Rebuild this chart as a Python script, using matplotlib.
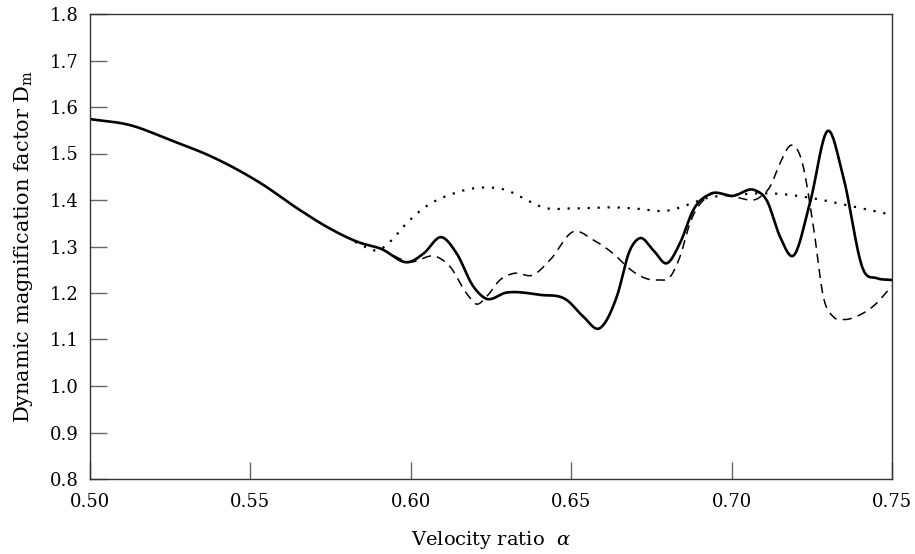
import numpy as np
import matplotlib
matplotlib.use("Agg")
import matplotlib.pyplot as plt

# solid curve
solid_x = [0.500, 0.5125, 0.525, 0.5383, 0.553, 0.5655, 0.5739, 0.5842, 0.5904, 0.5998,
           0.6040, 0.6096, 0.6143, 0.6195, 0.6231, 0.6299, 0.6403, 0.6486, 0.6538, 0.6588,
           0.6642, 0.6683, 0.6714, 0.6756, 0.6798, 0.6839, 0.6881, 0.6933, 0.7005, 0.7073,
           0.7109, 0.7151, 0.7192, 0.7244, 0.7301, 0.7348, 0.7411, 0.7452, 0.7500]
solid_y = [1.574, 1.561, 1.529, 1.492, 1.437, 1.378, 1.342, 1.308, 1.296, 1.267,
           1.285, 1.320, 1.285, 1.214, 1.189, 1.201, 1.196, 1.185, 1.149, 1.124,
           1.192, 1.292, 1.318, 1.292, 1.264, 1.307, 1.379, 1.413, 1.409, 1.421,
           1.400, 1.321, 1.280, 1.393, 1.549, 1.450, 1.249, 1.232, 1.228]

# dashed curve
dashed_x = [0.5904, 0.5998, 0.6081, 0.6122, 0.6174, 0.6205, 0.6236, 0.6278, 0.6319, 0.6382,
            0.6434, 0.6507, 0.6569, 0.6642, 0.6673, 0.6767, 0.6813, 0.6839, 0.6870, 0.6933,
            0.7004, 0.7088, 0.7120, 0.7151, 0.7187, 0.7218, 0.7255, 0.7286, 0.7317, 0.7348,
            0.7400, 0.7452, 0.7488, 0.7500]
dashed_y = [1.296, 1.267, 1.278, 1.257, 1.199, 1.176, 1.192, 1.228, 1.242, 1.239,
            1.271, 1.332, 1.314, 1.278, 1.257, 1.228, 1.239, 1.278, 1.350, 1.411,
            1.407, 1.406, 1.429, 1.479, 1.518, 1.486, 1.343, 1.192, 1.149, 1.143,
            1.153, 1.178, 1.206, 1.215]

# dotted curve
dotted_x = [0.5826, 0.5852, 0.5899, 0.5935, 0.5987, 0.6039, 0.6133, 0.6226, 0.6299, 0.6361,
            0.6413, 0.6507, 0.6642, 0.6693, 0.6808, 0.6860, 0.6922, 0.7005, 0.7130, 0.7234,
            0.7359, 0.7500]
dotted_y = [1.310, 1.301, 1.292, 1.310, 1.350, 1.382, 1.414, 1.427, 1.421, 1.400,
            1.384, 1.382, 1.384, 1.382, 1.378, 1.389, 1.404, 1.411, 1.414, 1.406,
            1.389, 1.368]

x_ticks = [0.50, 0.55, 0.60, 0.65, 0.70, 0.75]
y_ticks = [0.8, 0.9, 1.0, 1.1, 1.2, 1.3, 1.4, 1.5, 1.6, 1.7, 1.8]


def smooth(xs, ys):
    # cubic Hermite through the read points
    xs = np.asarray(xs)
    ys = np.asarray(ys)
    out_x, out_y = [], []
    m = np.gradient(ys, xs)
    for i in range(len(xs) - 1):
        h = xs[i + 1] - xs[i]
        t = np.linspace(0, 1, 20, endpoint=False)
        h00 = 2 * t**3 - 3 * t**2 + 1
        h10 = t**3 - 2 * t**2 + t
        h01 = -2 * t**3 + 3 * t**2
        h11 = t**3 - t**2
        out_x.extend(xs[i] + t * h)
        out_y.extend(h00 * ys[i] + h10 * h * m[i] + h01 * ys[i + 1] + h11 * h * m[i + 1])
    out_x.append(xs[-1])
    out_y.append(ys[-1])
    return np.array(out_x), np.array(out_y)


plt.rcParams['font.family'] = ['DejaVu Serif']
plt.rcParams['mathtext.fontset'] = 'dejavuserif'

fig = plt.figure(figsize=(9.15, 5.54), dpi=100)
ax = fig.add_axes([90 / 915, 1 - 479 / 554, 802 / 915, 465 / 554])

ax.plot(*smooth(dotted_x, dotted_y), color='black', lw=1.6, linestyle=(0, (1, 3.5)))
ax.plot(*smooth(dashed_x, dashed_y), color='black', lw=1.1, linestyle=(0, (6, 4)))
ax.plot(*smooth(solid_x, solid_y), color='black', lw=1.9)

ax.set_xlim(0.50, 0.75)
ax.set_ylim(0.8, 1.8)
ax.set_xticks(x_ticks)
ax.set_xticklabels([f'{v:.2f}' for v in x_ticks])
ax.set_yticks(y_ticks)
ax.set_yticklabels([f'{v:.1f}' for v in y_ticks])
ax.tick_params(direction='in', length=12, width=1.0, color='#666666',
               labelsize=13, top=False, right=False)
ax.tick_params(axis='x', pad=10)
ax.tick_params(axis='y', pad=8)
for s in ax.spines.values():
    s.set_color('#333333')
    s.set_linewidth(1.0)

ax.set_xlabel(r'Velocity ratio  $\alpha$', fontsize=14, labelpad=13)
ax.set_ylabel(r'Dynamic magnification factor D$_\mathrm{m}$', fontsize=15, labelpad=11)

fig.savefig('out.png', dpi=100)
